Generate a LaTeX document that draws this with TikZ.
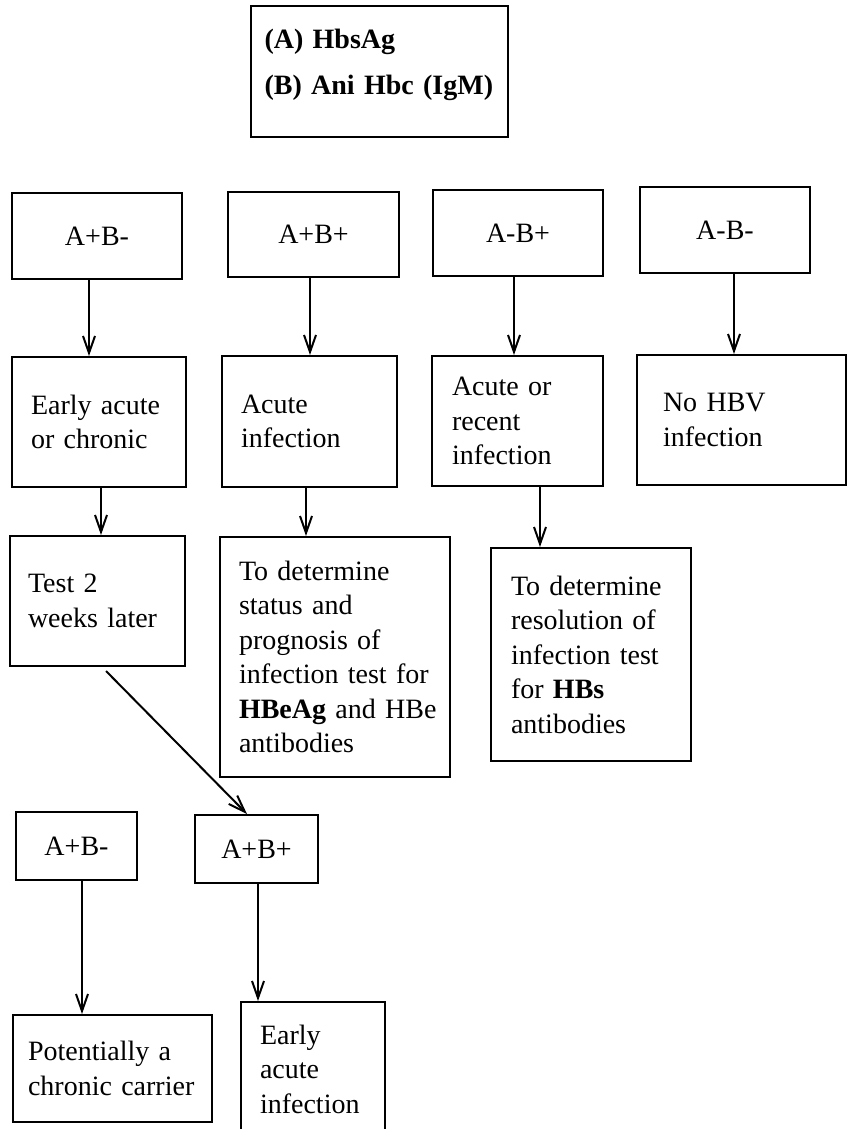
\documentclass[tikz,border=0pt]{standalone}
\usepackage{fontspec}
\setmainfont{Liberation Serif}
\usetikzlibrary{arrows.meta}
\begin{document}
\begin{tikzpicture}[
                            x=1pt, y=-1pt,
                            >={Straight Barb[length=17pt,width=12pt]},
                            line width=2pt,
                            font=\fontsize{28}{34.5}\selectfont,
                            block/.style={rectangle, draw, anchor=north west, inner ysep=0pt},
                            textblock/.style={block, align=left, inner xsep=19pt}
                        ]
                        \useasboundingbox (0,0) rectangle (847,1129);
                        % Blocks
                        \node [block, align=left, font=\bfseries\fontsize{28}{46}\selectfont, text width=230pt, inner xsep=13.5pt, minimum width=257pt, minimum height=131pt, text depth=66pt] (markers) at (250,5) {(A) HbsAg\\\mbox{(B) Ani Hbc (IgM)}};
                        \node [block, minimum width=170pt, minimum height=86pt] (pm) at (11,192) {A+B-};
                        \node [block, minimum width=171pt, minimum height=85pt] (pp) at (227,191) {A+B+};
                        \node [block, minimum width=170pt, minimum height=86pt] (mp) at (432,189) {A-B+};
                        \node [block, minimum width=170pt, minimum height=86pt] (mm) at (639,186) {A-B-};
                        \node [textblock, text width=136pt, minimum width=174pt, minimum height=130pt] (early) at (11,356) {Early acute\\or chronic};
                        \node [textblock, text width=137pt, minimum width=175pt, minimum height=131pt] (acute) at (221,355) {Acute\\infection};
                        \node [textblock, inner xsep=20pt, text width=131pt, minimum width=171pt, minimum height=130pt] (recent) at (431,355) {Acute or\\recent\\infection};
                        \node [textblock, inner xsep=26pt, text width=157pt, minimum width=209pt, minimum height=130pt] (nohbv) at (636,354) {No HBV\\infection};
                        \node [textblock, inner xsep=18pt, text width=139pt, minimum width=175pt, minimum height=130pt] (retest) at (9,535) {Test 2\\weeks later};
                        \node [textblock, inner xsep=19pt, text width=192pt, minimum width=230pt, minimum height=240pt] (status) at (219,536) {To determine\\status and\\prognosis of\\\mbox{infection test for}\\\mbox{\textbf{HBeAg} and HBe}\\antibodies};
                        \node [textblock, inner xsep=20pt, text width=160pt, minimum width=200pt, minimum height=213pt] (resolve) at (490,547) {To determine\\resolution of\\infection test\\for \textbf{HBs}\\antibodies};
                        \node [block, minimum width=121pt, minimum height=68pt] (pm2) at (15,811) {A+B-};
                        \node [block, minimum width=123pt, minimum height=68pt] (pp2) at (194,814) {A+B+};
                        \node [textblock, inner xsep=15pt, text width=169pt, minimum width=199pt, minimum height=107pt] (carrier) at (12,1014) {Potentially a\\\mbox{chronic carrier}};
                        \node [textblock, text width=106pt, minimum width=144pt, minimum height=134pt] (earlyacute) at (240,1001) {Early\\acute\\infection};

                        % Connections
                        \draw [->] ([xshift=-8pt]pm.south) -- ([xshift=-8pt]pm.south |- early.north);
                        \draw [->] ([xshift=-3.5pt]pp.south) -- ([xshift=-3.5pt]pp.south |- acute.north);
                        \draw [->] ([xshift=-4pt]mp.south) -- ([xshift=-4pt]mp.south |- recent.north);
                        \draw [->] ([xshift=9pt]mm.south) -- ([xshift=9pt]mm.south |- nohbv.north);
                        \draw [->] ([xshift=2pt]early.south) -- ([xshift=2pt]early.south |- retest.north);
                        \draw [->] ([xshift=-3.5pt]acute.south) -- ([xshift=-3.5pt]acute.south |- status.north);
                        \draw [->] ([xshift=22.5pt]recent.south) -- ([xshift=22.5pt]recent.south |- resolve.north);
                        \draw [->] ([xshift=8.5pt,yshift=-4pt]retest.south) -- ([xshift=-9.5pt]pp2.north);
                        \draw [->] ([xshift=5.5pt]pm2.south) -- ([xshift=5.5pt]pm2.south |- carrier.north);
                        \draw [->] ([xshift=1.5pt]pp2.south) -- ([xshift=1.5pt]pp2.south |- earlyacute.north);
                    \end{tikzpicture}
\end{document}
